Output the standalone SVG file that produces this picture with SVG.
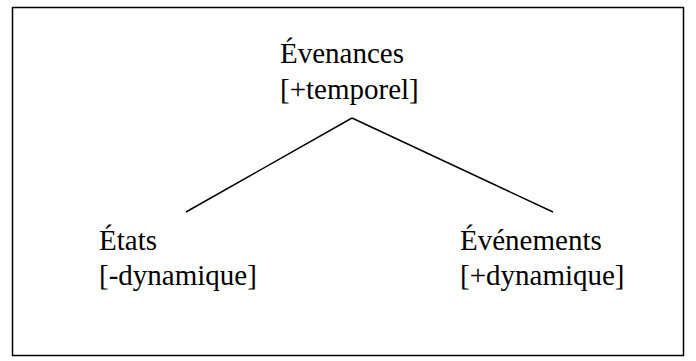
<svg xmlns="http://www.w3.org/2000/svg" width="696" height="361" viewBox="0 0 696 361">
<style>
.t{font-family:'Liberation Serif','Times New Roman',serif;font-size:29px;fill:#000}
.ln{stroke:#000;stroke-width:1.5;fill:none}
</style>
<rect x="0" y="0" width="696" height="361" fill="#fff"/>
<rect x="12.5" y="7.5" width="671" height="348" fill="none" stroke="#000" stroke-width="1.5"/>
<g id="connectors">
<line class="ln" x1="352" y1="118" x2="186" y2="212"/>
<line class="ln" x1="352" y1="118" x2="553" y2="212"/>
</g>
<g id="evenances">
<text class="t" x="280" y="63">Évenances</text>
<text class="t" x="280" y="99">[+temporel]</text>
</g>
<g id="etats">
<text class="t" x="99" y="250">États</text>
<text class="t" x="99" y="285">[-dynamique]</text>
</g>
<g id="evenements">
<text class="t" x="460" y="250">Événements</text>
<text class="t" x="460" y="285">[+dynamique]</text>
</g>
</svg>
